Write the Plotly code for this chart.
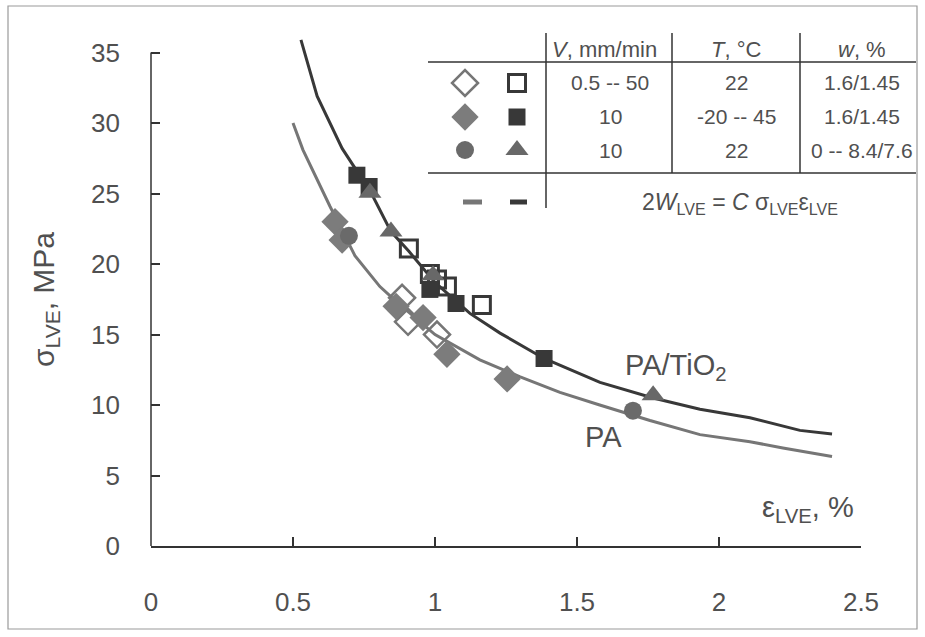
import plotly.graph_objects as go

# ---------------- data ----------------
# fitted curves 2W = C*sigma*eps
pa_curve_x = [0.50, 0.535, 0.63, 0.718, 0.806, 0.866, 1.0, 1.158, 1.30, 1.44, 1.58, 1.757, 1.933, 2.109, 2.225, 2.398]
pa_curve_y = [30.0, 28.1, 24.1, 20.6, 18.4, 17.3, 15.0, 13.2, 12.0, 10.9, 10.0, 8.9, 7.9, 7.4, 6.95, 6.35]
ti_curve_x = [0.528, 0.585, 0.673, 0.775, 0.845, 0.908, 1.0, 1.123, 1.229, 1.384, 1.581, 1.768, 1.933, 2.109, 2.285, 2.398]
ti_curve_y = [35.9, 31.9, 28.2, 25.05, 22.3, 20.9, 18.7, 16.5, 15.1, 13.3, 11.6, 10.5, 9.7, 9.1, 8.2, 7.95]

# PA, V varied (open diamonds)
pa_v_x = [0.884, 0.905, 1.007]
pa_v_y = [17.6, 15.9, 15.0]
# PA, T varied (filled diamonds)
pa_t_x = [0.648, 0.673, 0.863, 0.958, 1.042, 1.254]
pa_t_y = [23.0, 21.7, 17.0, 16.2, 13.6, 11.85]
# PA, w varied (circles)
pa_w_x = [0.697, 1.697]
pa_w_y = [22.0, 9.6]
# PA/TiO2, V varied (open squares)
ti_v_x = [0.908, 0.982, 1.007, 1.042, 1.165]
ti_v_y = [21.1, 19.3, 18.9, 18.4, 17.1]
# PA/TiO2, T varied (filled squares)
ti_t_x = [0.725, 0.768, 0.982, 1.074, 1.384]
ti_t_y = [26.3, 25.5, 18.2, 17.2, 13.3]
# PA/TiO2, w varied (triangles)
ti_w_x = [0.771, 0.845, 0.993, 1.768]
ti_w_y = [25.05, 22.3, 19.2, 10.7]

x_ticks = [0, 0.5, 1, 1.5, 2, 2.5]
y_ticks = [0, 5, 10, 15, 20, 25, 30, 35]

table_header = ["<i>V</i>, mm/min", "<i>T</i>, °C", "<i>w</i>, %"]
table_rows = [["0.5 -- 50", "22", "1.6/1.45"],
              ["10", "-20 -- 45", "1.6/1.45"],
              ["10", "22", "0 -- 8.4/7.6"]]
formula = "2<i>W</i><sub>LVE</sub> = <i>C</i> σ<sub>LVE</sub>ε<sub>LVE</sub>"

# ---------------- layout geometry ----------------
W, H = 925, 637
L, R, T, B = 151, 64, 30, 91
PW, PH = W - L - R, H - T - B
XR, YR = (0, 2.5), (0, 36.6)   # a little headroom above 35 so the curve can overshoot
Y_AXIS_TOP = 35

def px(p):  # pixel x -> paper
    return (p - L) / PW

def py(p):  # pixel y -> paper
    return (H - B - p) / PH

def dx(p):  # pixel x -> data
    return XR[0] + (p - L) / PW * (XR[1] - XR[0])

def dy(p):
    return YR[0] + (H - B - p) / PH * (YR[1] - YR[0])

LIGHT = "#767676"
DARK = "#383838"
FONT = "Liberation Sans, Arial, sans-serif"
TXT = "#505050"
AX = "#333333"

fig = go.Figure()
fig.add_trace(go.Scatter(x=pa_curve_x, y=pa_curve_y, mode="lines",
                         line=dict(color=LIGHT, width=3), showlegend=False))
fig.add_trace(go.Scatter(x=ti_curve_x, y=ti_curve_y, mode="lines",
                         line=dict(color=DARK, width=3), showlegend=False))

def pts(x, y, symbol, color, size, lw=0, lc=None):
    fig.add_trace(go.Scatter(x=x, y=y, mode="markers", showlegend=False, cliponaxis=False,
                             marker=dict(symbol=symbol, color=color, size=size,
                                         line=dict(width=lw, color=lc or color))))

pts(ti_v_x, ti_v_y, "square-open", DARK, 17, 3)
pts(pa_v_x, pa_v_y, "diamond-open", LIGHT, 20, 2.5)
pts(pa_t_x, pa_t_y, "diamond", "#7c7c7c", 21)
pts(pa_w_x, pa_w_y, "circle", "#6a6a6a", 18)
pts(ti_t_x, ti_t_y, "square", DARK, 17)
pts(ti_w_x, ti_w_y, "triangle-up", "#686868", 20)

# legend-table symbols
c1, c2 = 465, 517
rows_y = [83, 117, 150]
pts([dx(c1)], [dy(rows_y[0])], "diamond-open", LIGHT, 20, 2.5)
pts([dx(c2)], [dy(rows_y[0])], "square-open", DARK, 17, 3)
pts([dx(c1)], [dy(rows_y[1])], "diamond", "#7c7c7c", 21)
pts([dx(c2)], [dy(rows_y[1])], "square", DARK, 17)
pts([dx(c1)], [dy(rows_y[2])], "circle", "#6a6a6a", 18)
pts([dx(c2)], [dy(rows_y[2])], "triangle-up", "#686868", 20)

shapes = []
# outer frame
shapes.append(dict(type="rect", xref="paper", yref="paper", x0=px(8), x1=px(917), y0=py(629), y1=py(6),
                   line=dict(color="#9a9a9a", width=1.2)))
# y axis line, 0..35 only
shapes.append(dict(type="line", xref="paper", yref="y", x0=0, x1=0, y0=0, y1=Y_AXIS_TOP,
                   line=dict(color=AX, width=1.5)))
# table lines
lc = dict(color=AX, width=1.5)
shapes.append(dict(type="line", xref="paper", yref="paper", x0=px(428), x1=px(916), y0=py(62), y1=py(62), line=lc))
shapes.append(dict(type="line", xref="paper", yref="paper", x0=px(428), x1=px(916), y0=py(173), y1=py(173), line=lc))
shapes.append(dict(type="line", xref="paper", yref="paper", x0=px(546), x1=px(546), y0=py(33), y1=py(208), line=lc))
shapes.append(dict(type="line", xref="paper", yref="paper", x0=px(672), x1=px(672), y0=py(33), y1=py(173), line=lc))
shapes.append(dict(type="line", xref="paper", yref="paper", x0=px(800), x1=px(800), y0=py(33), y1=py(173), line=lc))
# legend line samples
shapes.append(dict(type="line", xref="paper", yref="paper", x0=px(463), x1=px(482), y0=py(202), y1=py(202),
                   line=dict(color=LIGHT, width=5)))
shapes.append(dict(type="line", xref="paper", yref="paper", x0=px(510), x1=px(527), y0=py(202), y1=py(202),
                   line=dict(color=DARK, width=5)))

ann = []
def text(x, y, s, size=21, color=TXT, **kw):
    ann.append(dict(xref="paper", yref="paper", x=px(x), y=py(y), text=s, showarrow=False,
                    font=dict(family=FONT, size=size, color=color), xanchor=kw.get("xanchor", "center"),
                    yanchor="middle", textangle=kw.get("textangle", 0)))

cols_x = [604, 736, 862]
hdr_y = 50
for cx, h in zip(cols_x, table_header):
    text(cx, hdr_y, h, size=22)
row_cols = [610, 736, 862]
for ry, row in zip(rows_y, table_rows):
    for cx, v in zip(row_cols, row):
        text(cx, ry, v, size=21)
text(740, 203, formula, size=23)
text(676, 367, "PA/TiO<sub>2</sub>", size=29)
text(603, 437, "PA", size=29)
text(808, 509, "ε<sub>LVE</sub>, %", size=29)
text(45, 300, "σ<sub>LVE</sub>, MPa", size=30, textangle=-90)

fig.update_layout(
    width=W, height=H, margin=dict(l=L, r=R, t=T, b=B),
    paper_bgcolor="white", plot_bgcolor="white",
    shapes=shapes, annotations=ann, showlegend=False,
    xaxis=dict(range=list(XR), tickvals=x_ticks, showgrid=False, zeroline=False,
               showline=True, linecolor=AX, linewidth=1.5,
               ticks="inside", ticklen=9, tickcolor=AX, tickwidth=1.5,
               ticklabelstandoff=32,
               tickfont=dict(family=FONT, size=26, color=TXT)),
    yaxis=dict(range=list(YR), tickvals=y_ticks, showgrid=False, zeroline=False,
               showline=False,
               ticks="inside", ticklen=9, tickcolor=AX, tickwidth=1.5,
               ticklabelstandoff=30,
               tickfont=dict(family=FONT, size=26, color=TXT)),
)

fig.write_html("out.html")
